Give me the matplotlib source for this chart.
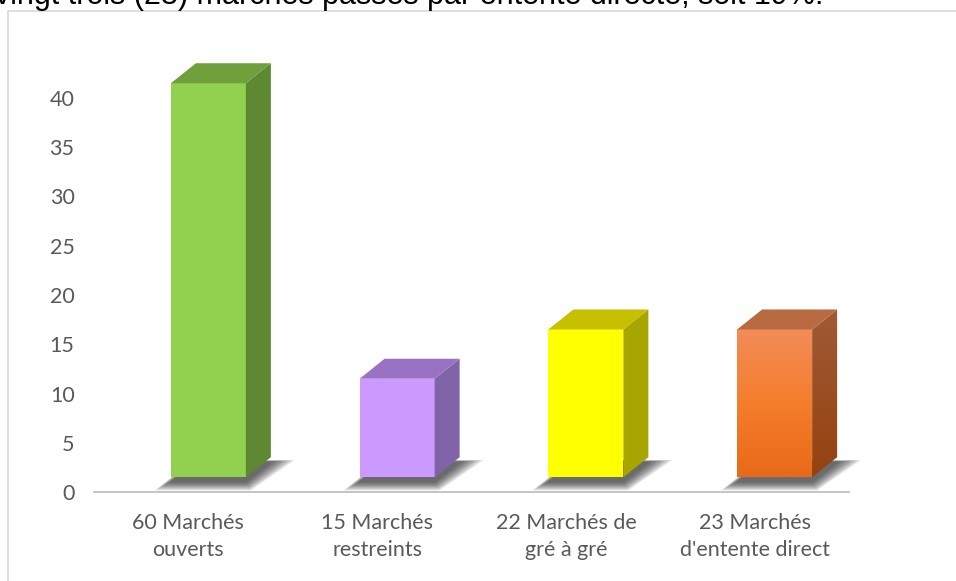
import matplotlib
matplotlib.use('Agg')
import matplotlib.pyplot as plt
import numpy as np
from matplotlib.patches import Polygon, Rectangle

plt.rcParams['font.family'] = ['Lato', 'DejaVu Sans']

categories = ['60 Marchés\nouverts', '15 Marchés\nrestreints',
              '22 Marchés de\ngré à gré', '23 Marchés\nd\'entente direct']
values = [40, 10, 15, 15]
yticks = [0, 5, 10, 15, 20, 25, 30, 35, 40]

# face colours: front, top, side
front_cols = ['#92D050', '#CC99FF', '#FFFF00', '#F3843F']
top_cols = ['#70A03C', '#9A72C4', '#C6C000', '#B86A40']
side_cols = ['#5F8832', '#8064A8', '#A8A500', '#9C4F22']

W, H = 956, 581
fig = plt.figure(figsize=(W / 100, H / 100), dpi=100)

# axes placed in pixels: x line 94..849, zero at y=492, 9.85 px per unit
ymax = 45
px_per_unit = 9.85
ax_h = ymax * px_per_unit
ax = fig.add_axes([94 / W, (H - 492) / H, (849 - 94) / W, ax_h / H])
ax.set_xlim(-0.5, 3.5)
ax.set_ylim(0, ymax)

# chart frame (light grey, runs past right and bottom edges)
fig.patches.append(Rectangle((8 / W, -0.1), 1.2, 1.1 - 11 / H,
                             transform=fig.transFigure, fill=False,
                             edgecolor='#D9D9D9', lw=1.2))

# top sentence, only its lower part shows above the frame
fig.text(823 / W, 1 - 4 / H,
         'vingt trois (23) marchés passés par entente directe, soit 19%.',
         ha='right', va='baseline', fontsize=22, color='black',
         family='Liberation Sans')

cat_w = 755 / 4
off = 20 / cat_w          # front face offset from category centre
fw = 75 / cat_w           # front face width
dx = 25 / cat_w           # depth offset x
dy = 20 / px_per_unit     # depth offset y
base = 1.5

for i, v in enumerate(values):
    x0 = i + off - fw / 2
    x1 = x0 + fw
    y0 = base
    y1 = base + v

    # soft shadow on the floor
    foot = np.array([[x0, y0], [x1, y0], [x1 + dx, y0 + dy], [x0 + dx, y0 + dy]])
    for k in range(10):
        e = (10 - k) * 1.6
        ex = e / cat_w
        ey = e / px_per_unit
        sh = foot + np.array([[-ex * 1.0, -ey * 0.55], [ex * 0.3, -ey * 0.55],
                              [ex * 1.5, ey * 0.1], [-ex * 0.2, ey * 0.1]])
        sh = sh + np.array([0.0, -0.45])
        ax.add_patch(Polygon(sh, closed=True, facecolor='#252525', edgecolor='none',
                             alpha=0.1, zorder=1, clip_on=False))

    # front face
    if i == 3:
        grad = np.linspace(0, 1, 100).reshape(-1, 1)
        c_top = np.array([0xF2, 0x8C, 0x58]) / 255
        c_mid = np.array([0xF5, 0x7D, 0x2C]) / 255
        c_bot = np.array([0xE8, 0x6A, 0x18]) / 255
        g = grad[:, :, None]
        img = np.where(g < 0.5, c_top + (c_mid - c_top) * g * 2,
                       c_mid + (c_bot - c_mid) * (g - 0.5) * 2) * np.ones((1, 1, 3))
        im = ax.imshow(img, extent=[x0, x1, y0, y1], origin='upper',
                       aspect='auto', zorder=3)
        rect = Rectangle((x0, y0), fw, v, facecolor='none', edgecolor='none', zorder=3)
        ax.add_patch(rect)
        im.set_clip_path(rect)
        side_poly = Polygon([[x1, y0], [x1 + dx, y0 + dy], [x1 + dx, y1 + dy], [x1, y1]],
                            closed=True, facecolor='none', edgecolor='none', zorder=3)
        ax.add_patch(side_poly)
        s_top = np.array([0xA0, 0x5A, 0x35]) / 255
        s_bot = np.array([0x95, 0x42, 0x10]) / 255
        simg = s_top + (s_bot - s_top) * g * np.ones((1, 1, 3))
        sim = ax.imshow(simg, extent=[x1, x1 + dx, y0, y1 + dy], origin='upper',
                        aspect='auto', zorder=3)
        sim.set_clip_path(side_poly)
    else:
        ax.add_patch(Rectangle((x0, y0), fw, v, facecolor=front_cols[i],
                               edgecolor='none', zorder=3))
        ax.add_patch(Polygon([[x1, y0], [x1 + dx, y0 + dy], [x1 + dx, y1 + dy], [x1, y1]],
                             closed=True, facecolor=side_cols[i], edgecolor='none',
                             zorder=3, clip_on=False))
    # top face
    ax.add_patch(Polygon([[x0, y1], [x1, y1], [x1 + dx, y1 + dy], [x0 + dx, y1 + dy]],
                         closed=True, facecolor=top_cols[i], edgecolor='none',
                         zorder=3, clip_on=False))

ax.set_xlim(-0.5, 3.5)
ax.set_ylim(0, ymax)

ax.set_yticks(yticks)
ax.set_yticklabels([str(t) for t in yticks])
ax.set_xticks(range(len(categories)))
ax.set_xticklabels(categories, linespacing=1.45)
ax.tick_params(axis='y', length=0, pad=14, labelsize=15.5, labelcolor='#595959')
ax.tick_params(axis='x', length=0, pad=15, labelsize=15.5, labelcolor='#595959')

for s in ['top', 'right', 'left']:
    ax.spines[s].set_visible(False)
ax.spines['bottom'].set_color('#C0C0C0')
ax.spines['bottom'].set_linewidth(1.3)
ax.patch.set_alpha(0)

fig.savefig('out.png', dpi=100)
